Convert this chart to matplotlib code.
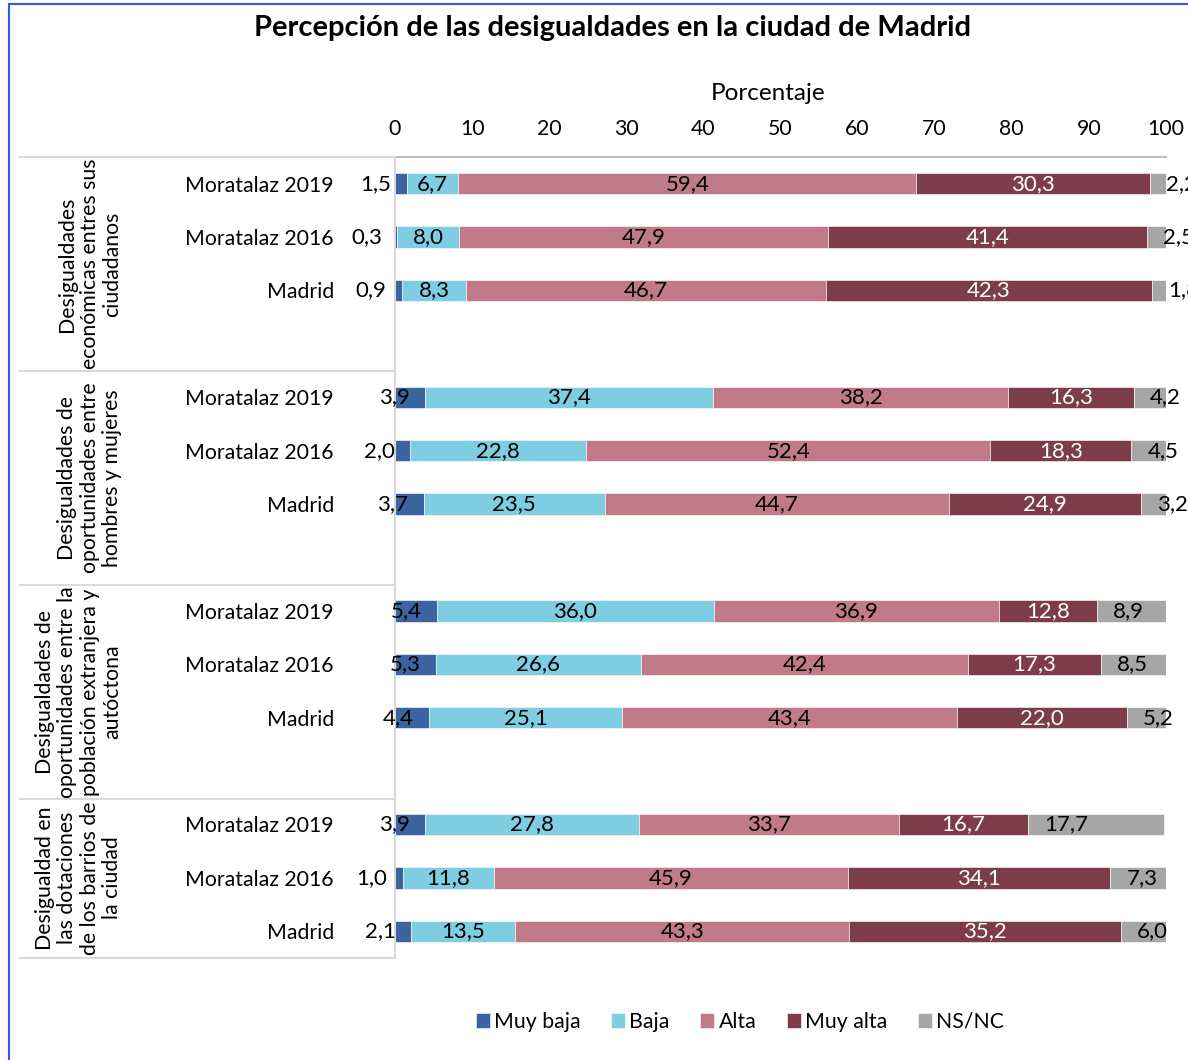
import matplotlib
matplotlib.use("Agg")
import matplotlib.pyplot as plt
from matplotlib.lines import Line2D
from matplotlib.patches import Rectangle
import numpy as np

plt.rcParams["font.family"] = ["Lato", "DejaVu Sans"]

# data
groups = [
    "Desigualdades\neconómicas entres sus\nciudadanos",
    "Desigualdades de\noportunidades entre\nhombres y mujeres",
    "Desigualdades de\noportunidades entre la\npoblación extranjera y\nautóctona",
    "Desigualdad en\nlas dotaciones\nde los barrios de\nla ciudad",
]
subcats = ["Moratalaz 2019", "Moratalaz 2016", "Madrid"]
series = ["Muy baja", "Baja", "Alta", "Muy alta", "NS/NC"]
muy_baja = [1.5, 0.3, 0.9, 3.9, 2.0, 3.7, 5.4, 5.3, 4.4, 3.9, 1.0, 2.1]
baja = [6.7, 8.0, 8.3, 37.4, 22.8, 23.5, 36.0, 26.6, 25.1, 27.8, 11.8, 13.5]
alta = [59.4, 47.9, 46.7, 38.2, 52.4, 44.7, 36.9, 42.4, 43.4, 33.7, 45.9, 43.3]
muy_alta = [30.3, 41.4, 42.3, 16.3, 18.3, 24.9, 12.8, 17.3, 22.0, 16.7, 34.1, 35.2]
ns_nc = [2.2, 2.5, 1.8, 4.2, 4.5, 3.2, 8.9, 8.5, 5.2, 17.7, 7.3, 6.0]
colors = ["#3B64A1", "#7ECDE1", "#C17B88", "#7D3C4A", "#A6A6A6"]
text_colors = ["black", "black", "black", "white", "black"]

values = [muy_baja, baja, alta, muy_alta, ns_nc]

# row positions: 4 slots per group (last slot empty), last group only 3
ypos = []
for g in range(len(groups)):
    for i in range(len(subcats)):
        ypos.append(g * 4 + i)
ypos = np.array(ypos)

FS = 15.3
W, H = 1188, 1060
fig = plt.figure(figsize=(W / 100, H / 100), dpi=100)
ax = fig.add_axes([395 / W, 1 - 958 / H, (1166 - 395) / W, (958 - 157) / H])

left = np.zeros(len(ypos))
for k, vals in enumerate(values):
    vals = np.array(vals)
    ax.barh(ypos, vals, left=left, height=0.4, color=colors[k],
            edgecolor="white", linewidth=0.4, label=series[k])
    for y, l, v in zip(ypos, left, vals):
        lab = f"{v:.1f}".replace(".", ",")
        if k == 0:
            ax.annotate(lab, (l + v, y), xytext=(-11, 0), textcoords="offset points",
                        ha="right", va="center", fontsize=16, color=text_colors[k],
                        annotation_clip=False)
        elif k == 4:
            ax.annotate(lab, (l, y), xytext=(11.5, 0), textcoords="offset points",
                        ha="left", va="center", fontsize=16, color=text_colors[k],
                        annotation_clip=False)
        else:
            ax.text(l + v / 2, y, lab, ha="center", va="center",
                    fontsize=16, color=text_colors[k])
    left = left + vals

ax.set_xlim(0, 100)
ax.set_ylim(14.5, -0.5)
ax.set_xticks(np.arange(0, 101, 10))
ax.xaxis.tick_top()
ax.xaxis.set_label_position("top")
ax.set_xlabel("Porcentaje", fontsize=17.5)
ax.xaxis.set_label_coords((768 - 395) / 771, 1 + (157 - 94) / 801)
ax.xaxis.label.set_va("center")
ax.tick_params(axis="x", length=0, pad=13, labelsize=FS)
ax.set_yticks(ypos)
ax.set_yticklabels(subcats * len(groups))
ax.tick_params(axis="y", length=0, pad=44, labelsize=FS)

for s in ["right", "bottom"]:
    ax.spines[s].set_visible(False)
ax.spines["top"].set_color("#BFBFBF")
ax.spines["top"].set_linewidth(1.5)
ax.spines["left"].set_color("#D9D9D9")
ax.spines["left"].set_linewidth(1.5)

# category table lines
for yy in [157, 371, 585, 799, 958]:
    fig.add_artist(Line2D([20 / W, 395 / W], [1 - yy / H, 1 - yy / H],
                          color="#D9D9D9", lw=1.5))

# group labels
centers = [264, 478, 692, 878]
for g, txt in enumerate(groups):
    fig.text(122 / W, 1 - centers[g] / H, txt, rotation=90, ha="right", va="center",
             multialignment="center", fontsize=FS, linespacing=1.15)

fig.suptitle("Percepción de las desigualdades en la ciudad de Madrid",
             x=612 / W, y=1 - 28 / H, va="center", fontsize=21, fontweight="bold")

fig.legend(loc="center", bbox_to_anchor=(740 / W, 1 - 1022 / H), ncol=5, frameon=False,
           fontsize=FS, handlelength=0.65, handleheight=0.65, handletextpad=0.2,
           columnspacing=1.45)

# blue outer border
fig.add_artist(Rectangle((9 / W, -0.1), 1.2, 1 - 4 / H + 0.1, fill=False,
                         edgecolor="#2E5CE6", lw=1.5, transform=fig.transFigure))

fig.savefig("out.png", dpi=100)
